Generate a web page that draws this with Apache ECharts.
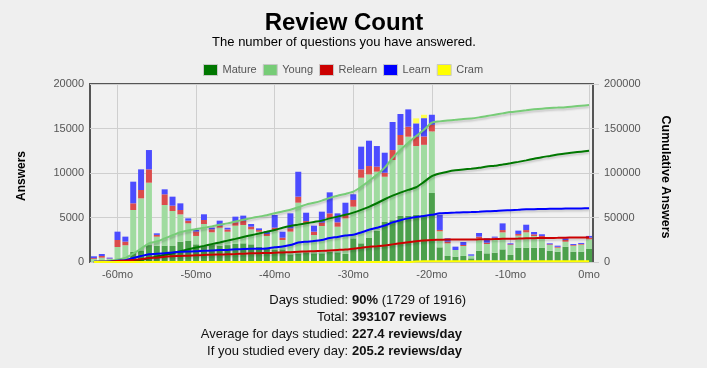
<!DOCTYPE html>
<html><head><meta charset="utf-8">
<script src="https://cdn.jsdelivr.net/npm/echarts@6/dist/echarts.min.js"></script>
<style>html,body{margin:0;padding:0;background:#efefef}#c{width:707px;height:368px}</style>
</head><body><div id="c"></div>
<script>
const months = [-63,-62,-61,-60,-59,-58,-57,-56,-55,-54,-53,-52,-51,-50,-49,-48,-47,-46,-45,-44,-43,-42,-41,-40,-39,-38,-37,-36,-35,-34,-33,-32,-31,-30,-29,-28,-27,-26,-25,-24,-23,-22,-21,-20,-19,-18,-17,-16,-15,-14,-13,-12,-11,-10,-9,-8,-7,-6,-5,-4,-3,-2,-1,0];
const mature = [0,0,0,0,0,1160,1300,1900,1835,1835,1800,2280,2360,1985,1800,1985,1835,1900,2020,2100,1985,1700,1650,1350,1420,860,975,1086,975,975,1160,1086,900,2660,2100,2700,3500,4500,4700,5200,5200,5300,5300,7750,1650,675,600,680,410,1270,970,1050,1420,790,1610,1610,1610,1610,1270,1160,1720,1160,1160,1460];
const young = [340,485,340,1688,1880,4685,5850,7010,1010,4570,3930,3070,1985,940,2470,1350,2020,1500,2060,2060,1685,1700,1270,2170,1050,2550,5690,3180,2060,3070,3745,2880,4000,3560,7370,7140,6650,5080,6760,7950,8880,7730,7865,6920,1800,1420,750,1120,300,1390,1050,1500,1910,1120,1350,1720,1310,1090,640,450,560,675,790,1090];
const relearn = [100,190,50,786,410,750,940,1500,200,1200,600,490,300,490,450,340,190,260,375,450,300,190,225,340,260,375,675,337,375,375,560,490,375,750,940,940,560,450,1120,1120,1120,1050,940,750,150,190,0,110,0,190,150,190,260,80,190,260,190,225,80,95,190,80,80,190];
const learn = [200,225,100,936,560,2430,2320,2170,175,560,1010,750,260,190,640,190,600,190,640,600,300,190,340,1420,675,1685,2800,936,675,1236,2360,1010,1386,640,2550,2850,2320,2250,3150,2360,1950,1500,2060,1124,1700,375,375,340,150,410,490,110,750,110,375,600,260,190,110,130,190,110,110,190];
const cram = [0,0,0,0,0,0,0,0,0,0,0,0,0,0,0,0,0,0,0,0,0,0,0,0,0,0,0,0,0,0,0,0,0,0,0,0,0,0,0,0,0,560,375,0,0,0,0,0,0,0,0,0,0,0,0,0,0,0,0,0,0,0,0,0];
const cumMature = [0,0,0,0,0,1100,2400,4300,6100,8000,9800,12000,14300,16300,18100,20100,22000,24000,26000,28100,30100,32000,34000,36000,38500,40500,42000,43500,45000,46500,49000,51000,53000,55500,58500,62000,66000,70500,74500,78000,81000,84000,90000,96500,99500,101500,103000,104000,104800,105800,107300,108200,109500,110900,112500,114200,116000,117800,119200,120700,122000,123000,124000,125000];
const cumYoung = [340,800,1200,2800,4700,9400,15000,21000,23000,26500,30000,33500,35500,37000,38500,40000,41800,43400,45500,47500,49300,51000,52500,54800,56800,58800,61500,64500,66500,69000,72000,74500,76500,79000,84500,91000,98000,106000,117000,126000,134000,141500,148500,156500,158000,159000,159800,160800,161300,162500,164000,165500,167000,168500,169500,170500,171500,172300,173000,173500,174000,174800,175600,176400];
const cumRelearn = [100,300,350,1100,1500,2300,3200,4500,4900,5900,6400,6800,7100,7500,7900,8200,8400,8700,9000,9400,9700,9900,10100,10400,10700,11000,11500,11800,12100,12500,13000,13500,14000,15000,16000,17000,17800,18600,19800,21000,22200,23300,24200,24800,24950,25150,25150,25250,25250,25450,25600,25800,26050,26150,26300,26550,26750,26950,27050,27150,27350,27450,27550,27750];
const cumLearn = [200,400,500,1400,2000,4400,6700,8800,9200,9800,10800,11500,11800,12000,12600,12800,13400,13600,14200,14700,14900,15000,15300,16600,17300,19000,21800,22800,23500,24700,27000,28200,29700,30700,33200,36200,38500,41000,44500,47000,49000,50500,51800,53000,54700,55100,55500,55900,56100,56500,57000,57200,58000,58200,58600,59200,59400,59600,59700,59800,60000,60100,60200,60400];
const cumCram = [0,0,0,0,0,0,0,0,0,0,0,0,0,0,0,0,0,0,0,0,0,0,0,0,0,0,0,0,0,0,0,0,0,0,0,0,0,0,0,0,0,560,935,935,935,935,935,935,935,935,935,935,935,935,935,935,935,935,935,935,935,935,935,935];
const xTicks = [-60,-50,-40,-30,-20,-10,0];
const seriesNames = ['Mature','Young','Relearn','Learn','Cram'];
const statLabels = ['Days studied:','Total:','Average for days studied:','If you studied every day:'];

const FONT = 'Helvetica, Arial, "Liberation Sans", sans-serif';
const baseCols = ['#007700','#77cc77','#cc0000','#0000ff','#ffff00'];
const barCols = ['#4ca04c','#a0dba0','#db4c4c','#4c4cff','#ffff4c'];
const barData = [mature, young, relearn, learn, cram];
const cumData = [cumMature, cumYoung, cumRelearn, cumLearn, cumCram];

const series = [];
seriesNames.forEach((n, k) => {
  series.push({
    name: n, type: 'bar', stack: 'r', barWidth: 6,
    xAxisIndex: 0, yAxisIndex: 0,
    itemStyle: {color: barCols[k]},
    emphasis: {disabled: true},
    data: barData[k],
    z: 2
  });
});
[1,0,3,2,4].forEach(k => {
  series.push({
    name: seriesNames[k] + ' cumulative', type: 'line',
    xAxisIndex: 0, yAxisIndex: 1,
    showSymbol: false, smooth: 0.25,
    lineStyle: {color: baseCols[k], width: 2, shadowColor: 'rgba(0,0,0,0.18)', shadowBlur: 2, shadowOffsetY: 2},
    itemStyle: {color: baseCols[k]},
    emphasis: {disabled: true},
    data: cumData[k],
    z: 3
  });
});

const graphics = [
  {type:'text', x:344, y:23, style:{text:'Review Count', font:'bold 24px ' + FONT, fill:'#000', align:'center', verticalAlign:'middle'}},
  {type:'text', x:344, y:42, style:{text:'The number of questions you have answered.', font:'13px ' + FONT, fill:'#000', align:'center', verticalAlign:'middle'}},
  {type:'text', x:22, y:176, rotation:Math.PI/2, style:{text:'Answers', font:'bold 12px ' + FONT, fill:'#000', align:'center', verticalAlign:'middle'}},
  {type:'text', x:665, y:177, rotation:-Math.PI/2, style:{text:'Cumulative Answers', font:'bold 12.5px ' + FONT, fill:'#000', align:'center', verticalAlign:'middle'}}
];
const statValues = [
  '{b|90%} (1729 of 1916)',
  '{b|393107 reviews}',
  '{b|227.4 reviews/day}',
  '{b|205.2 reviews/day}'
];
const statY = [300, 317.5, 334.5, 351.5];
statLabels.forEach((t, i) => {
  graphics.push({type:'text', x:348, y:statY[i], style:{text:t, font:'13px ' + FONT, fill:'#111', align:'right', verticalAlign:'middle'}});
  graphics.push({type:'text', x:352, y:statY[i], style:{text:statValues[i], font:'13px ' + FONT, fill:'#111', align:'left', verticalAlign:'middle',
    rich:{b:{font:'bold 13px ' + FONT, fill:'#111'}}}});
});

const chart = echarts.init(document.getElementById('c'), null, {renderer:'canvas'});
chart.setOption({
  backgroundColor: '#efefef',
  animation: false,
  textStyle: {fontFamily: FONT},
  grid: {left: 90, right: 114, top: 84, bottom: 106, show: true, borderColor: '#555', borderWidth: 2, backgroundColor: '#f1f1f1', outerBoundsMode: 'none', containLabel: false},
  legend: {
    left: 203, top: 64, itemWidth: 14, itemHeight: 11, itemGap: 6, padding: 0, selectedMode: false,
    icon: 'rect',
    textStyle: {fontSize: 11, color: '#555', fontFamily: FONT},
    data: seriesNames.map((n, k) => ({name: n, itemStyle: {color: baseCols[k], borderColor: '#c8c8c8', borderWidth: 1}}))
  },
  xAxis: [{
    type: 'category', data: months, boundaryGap: true, show: false, position: 'top'
  }, {
    type: 'value', min: -63.5, max: 0.5, position: 'bottom',
    axisLine: {show: false},
    axisTick: {show: false, customValues: xTicks},
    axisLabel: {customValues: xTicks, formatter: v => v + 'mo', fontSize: 11, color: '#555', margin: 7},
    splitLine: {show: true, lineStyle: {color: '#cfcfcf', width: 1}}
  }],
  yAxis: [{
    type: 'value', min: 0, max: 20000, interval: 5000,
    axisLine: {show: false}, axisTick: {show: false},
    axisLabel: {fontSize: 11, color: '#555', margin: 6, formatter: v => String(v)},
    splitLine: {show: true, lineStyle: {color: '#cfcfcf', width: 1}}
  }, {
    type: 'value', min: 0, max: 200000, interval: 50000, position: 'right',
    axisLine: {show: false},
    axisTick: {show: true, length: 6, lineStyle: {color: '#cfcfcf'}},
    axisLabel: {fontSize: 11, color: '#555', margin: 11, formatter: v => String(v)},
    splitLine: {show: false}
  }],
  series: series,
  graphic: graphics
});
</script></body></html>
